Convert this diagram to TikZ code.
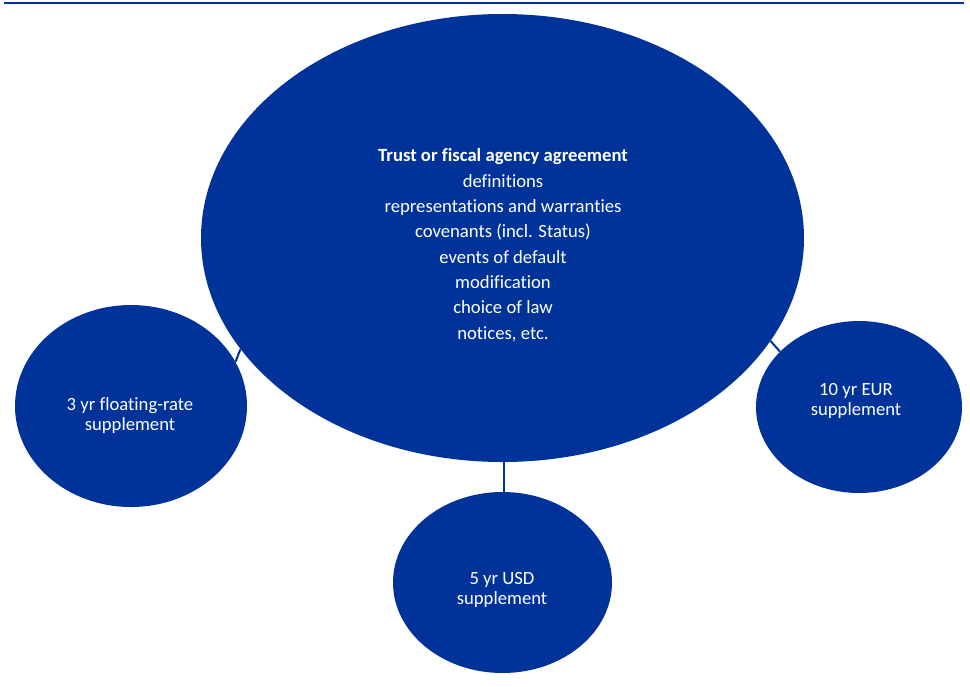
\documentclass[tikz,border=0pt]{standalone}
\usepackage{fontspec}
\setmainfont[Ligatures={NoCommon}]{Carlito}
\usetikzlibrary{shapes.geometric}
\definecolor{navy}{RGB}{0,51,153}
\tikzset{
  blob/.style={ellipse, fill=navy, draw=none, inner sep=0pt},
  bigtext/.style={text=white, align=center, font=\fontsize{14pt}{19pt}\selectfont, inner sep=0pt},
  smalltext/.style={text=white, align=center, font=\fontsize{14pt}{15pt}\selectfont, inner sep=0pt},
  link/.style={draw=navy, line width=1.5pt},
}
\begin{document}
\begin{tikzpicture}[x=0.75pt,y=-0.75pt]
\useasboundingbox (0,0) rectangle (970,686);
\fill[white] (0,0) rectangle (970,686);
\coordinate (topL) at (4,3);
\coordinate (topR) at (964,3);
\draw[navy, line width=1.5pt] (topL) -- (topR);

\node[blob, minimum width=452.25pt, minimum height=336pt] (main) at (502.5,238) {};
\node[blob, minimum width=174pt, minimum height=151.5pt] (left) at (131,406) {};
\node[blob, minimum width=154.5pt, minimum height=129pt] (right) at (859,407) {};
\node[blob, minimum width=164.25pt, minimum height=135.75pt] (bottom) at (502.5,582.5) {};

\node[bigtext] (maintext) at (503,245) {\textbf{Trust or fiscal agency agreement}\\definitions\\representations and warranties\\covenants (incl. Status)\\events of default\\modification\\choice of law\\notices, etc.};
\node[smalltext] (lefttext) at (130,415.5) {3 yr floating-rate\\supplement};
\node[smalltext] (righttext) at (856,401) {10 yr EUR\\supplement};
\node[smalltext] (bottomtext) at (502,589.5) {5 yr USD\\supplement};

\draw[link] (left.23.4) -- (main.203.9);
\draw[link] (main.-21.5) -- (right.145);
\draw[link] (main.south -| 504,0) -- (bottom.north -| 504,0);
\end{tikzpicture}
\end{document}
